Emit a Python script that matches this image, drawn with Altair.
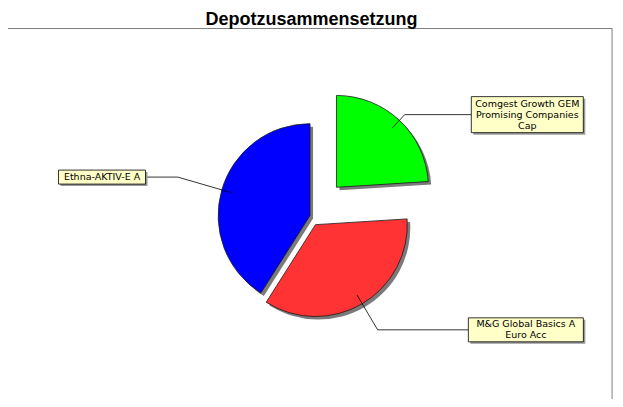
import altair as alt
import pandas as pd

# ---------------- data ----------------
fund_names = [
    "Comgest Growth GEM Promising Companies Cap",
    "M&G Global Basics A Euro Acc",
    "Ethna-AKTIV-E A",
]
fund_labels = [
    "Comgest Growth GEM\nPromising Companies\nCap",
    "M&G Global Basics A\nEuro Acc",
    "Ethna-AKTIV-E A",
]
shares = [24, 35, 41]
slice_colors = ["#00FF00", "#FF3333", "#0000FF"]

# ---------------- layout / style ----------------
SX = 607 / 623
SY = 391 / 407
PAD_TOP = 20
W = 607
H = 391 - PAD_TOP
LINE_H = 11


def px(x):
    return x * SX


def py(y):
    return y * SY - PAD_TOP


CX = px(310)
CY = py(216)
R = 95 * 0.967
LEADER_FRAC = 0.89
explode = [40 * 0.967, 11 * 0.967, 0]
box_cx = [px(533), px(531.5), px(96.5)]
box_cy = [py(111), py(335), py(176)]
box_w = [112, 115, 87]
box_h = [36, 24, 14]

df = pd.DataFrame({
    "order": list(range(len(shares))),
    "name": fund_names,
    "label": fund_labels,
    "share": shares,
    "color": slice_colors,
    "explode": explode,
    "bcx": box_cx,
    "bcy": box_cy,
    "bw": box_w,
    "bh": box_h,
})

base = (
    alt.Chart(df)
    .transform_joinaggregate(total="sum(share)")
    .transform_window(cum="sum(share)", sort=[alt.SortField("order", order="ascending")], frame=[None, 0])
    .transform_calculate(a0="2*PI*(datum.cum - datum.share)/datum.total")
    .transform_calculate(a1="2*PI*datum.cum/datum.total")
    .transform_calculate(mid="(datum.a0 + datum.a1)/2")
    .transform_calculate(cx=f"{CX} + datum.explode*sin(datum.mid)")
    .transform_calculate(cy=f"{CY} - datum.explode*cos(datum.mid)")
    .transform_calculate(cxs="datum.cx + 3")
    .transform_calculate(cys="datum.cy + 3")
    .transform_calculate(lx0=f"datum.cx + {LEADER_FRAC * R}*sin(datum.mid)")
    .transform_calculate(ly0=f"datum.cy - {LEADER_FRAC * R}*cos(datum.mid)")
    .transform_calculate(lx1="datum.lx0 + (datum.bcy - datum.ly0)/(-cos(datum.mid))*sin(datum.mid)")
    .transform_calculate(lx2="sin(datum.mid) > 0 ? datum.bcx - datum.bw/2 : datum.bcx + datum.bw/2")
    .transform_calculate(bx0="datum.bcx - datum.bw/2")
    .transform_calculate(bx1="datum.bcx + datum.bw/2")
    .transform_calculate(by0="datum.bcy - datum.bh/2")
    .transform_calculate(by1="datum.bcy + datum.bh/2")
    .transform_calculate(sbx0="datum.bx0 + 2")
    .transform_calculate(sbx1="datum.bx1 + 2")
    .transform_calculate(sby0="datum.by0 + 2")
    .transform_calculate(sby1="datum.by1 + 2")
    .transform_calculate(nlines="length(split(datum.label, '\\n'))")
    .transform_calculate(ty=f"datum.bcy - (datum.nlines - 1)*{LINE_H}/2")
)

theta = alt.Theta("a0:Q", scale=None, stack=False)
theta2 = alt.Theta2("a1:Q")

slice_shadow = base.mark_arc(radius=R, color="#7A7A7A").encode(
    theta=theta, theta2=theta2,
    x=alt.X("cxs:Q", scale=None, axis=None),
    y=alt.Y("cys:Q", scale=None, axis=None),
)

slices = base.mark_arc(radius=R, stroke="#1A1A1A", strokeWidth=0.8).encode(
    theta=theta, theta2=theta2,
    x=alt.X("cx:Q", scale=None, axis=None),
    y=alt.Y("cy:Q", scale=None, axis=None),
    color=alt.Color("color:N", scale=None),
)

leader1 = base.mark_rule(color="#000000", strokeWidth=0.8).encode(
    x=alt.X("lx0:Q", scale=None, axis=None),
    y=alt.Y("ly0:Q", scale=None, axis=None),
    x2="lx1:Q",
    y2="bcy:Q",
)

leader2 = base.mark_rule(color="#000000", strokeWidth=0.8).encode(
    x=alt.X("lx1:Q", scale=None, axis=None),
    y=alt.Y("bcy:Q", scale=None, axis=None),
    x2="lx2:Q",
)

box_shadow = base.mark_rect(fill="#9A9A9A").encode(
    x=alt.X("sbx0:Q", scale=None, axis=None),
    x2="sbx1:Q",
    y=alt.Y("sby0:Q", scale=None, axis=None),
    y2="sby1:Q",
)

boxes = base.mark_rect(fill="#FFFFC8", stroke="#000000", strokeWidth=0.8).encode(
    x=alt.X("bx0:Q", scale=None, axis=None),
    x2="bx1:Q",
    y=alt.Y("by0:Q", scale=None, axis=None),
    y2="by1:Q",
)

texts = base.mark_text(
    font="DejaVu Sans", fontSize=9.5, lineBreak="\n", lineHeight=LINE_H,
    align="center", baseline="middle", color="#000000",
).encode(
    x=alt.X("bcx:Q", scale=None, axis=None),
    y=alt.Y("ty:Q", scale=None, axis=None),
    text="label:N",
)

frame_df = pd.DataFrame({"k": [0]})
frame_top = alt.Chart(frame_df).mark_rule(color="#808080", strokeWidth=1).encode(
    x=alt.value(0), x2=alt.value(px(620)), y=alt.value(0.5)
)
frame_right = alt.Chart(frame_df).mark_rule(color="#808080", strokeWidth=1).encode(
    x=alt.value(px(620)), y=alt.value(0), y2=alt.value(H)
)

chart = alt.layer(
    frame_top, frame_right, slice_shadow, slices, leader1, leader2, box_shadow, boxes, texts
).properties(
    width=W,
    height=H,
    padding={"top": PAD_TOP, "left": 0, "right": 0, "bottom": 0},
    autosize=alt.AutoSizeParams(type="none"),
    title=alt.TitleParams(
        "Depotzusammensetzung",
        font="Liberation Sans", fontSize=18, fontWeight="bold",
        anchor="middle", offset=-1, color="#000000",
    ),
    background="#FFFFFF",
).configure_view(strokeWidth=0)

chart.save("out.html", embed_options={"renderer": "svg", "actions": False})
